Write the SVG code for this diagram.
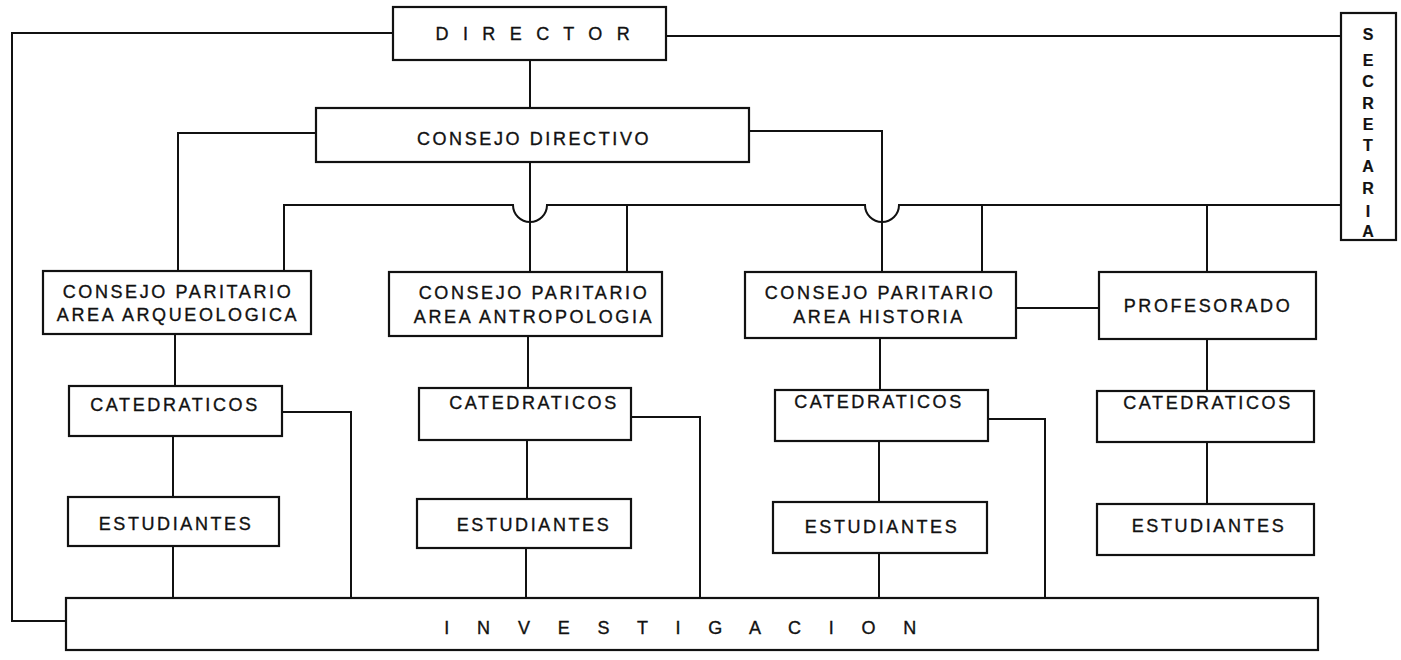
<svg xmlns="http://www.w3.org/2000/svg" width="1401" height="660" viewBox="0 0 1401 660">
<style>
.box{fill:#fff;stroke:#111;stroke-width:2.2}
.ln{fill:none;stroke:#111;stroke-width:2}
text{font-family:"Liberation Sans",Arial,sans-serif;font-size:18px;fill:#111;stroke:#111;stroke-width:0.35;letter-spacing:2.6px;text-anchor:middle}
.wide{letter-spacing:4.7px}
.inv{letter-spacing:11.4px}
.sec{font-size:16px;letter-spacing:0;font-weight:bold;stroke-width:0.2}
</style>
<rect width="1401" height="660" fill="#fff"/>
<g id="connectors" class="ln">
<path d="M393,33 H12 V621 H66"/>
<path d="M666,36 H1341"/>
<path d="M530,60 V108"/>
<path d="M316,133 H178 V271"/>
<path d="M749,131 H882 V272"/>
<path d="M530,162 V272"/>
<path d="M284,271 V205 H513 A17,17 0 0 0 547,205 H865 A17,17 0 0 0 899,205 H1341"/>
<path d="M627,205 V272"/>
<path d="M982,205 V272"/>
<path d="M1207,205 V272"/>
<path d="M1016,308 H1099"/>
<path d="M175,334 V386"/>
<path d="M528,336 V388"/>
<path d="M880,338 V390"/>
<path d="M1207,339 V391"/>
<path d="M173,436 V497"/>
<path d="M527,440 V499"/>
<path d="M879,441 V502"/>
<path d="M1207,442 V504"/>
<path d="M173,546 V598"/>
<path d="M526,548 V598"/>
<path d="M879,553 V598"/>
<path d="M282,412 H351 V598"/>
<path d="M631,417 H700 V598"/>
<path d="M988,419 H1045 V598"/>
</g>
<g id="director"><rect class="box" x="393" y="7" width="273" height="53"/><text class="wide" x="535" y="40">D I R E C T O R</text></g>
<g id="secretaria"><rect class="box" x="1341" y="13" width="55" height="227"/>
<text class="sec" x="1368"><tspan x="1368" y="40">S</tspan><tspan x="1368" y="66">E</tspan><tspan x="1368" y="87">C</tspan><tspan x="1368" y="109">R</tspan><tspan x="1368" y="130">E</tspan><tspan x="1368" y="151">T</tspan><tspan x="1368" y="172">A</tspan><tspan x="1368" y="194">R</tspan><tspan x="1368" y="217">I</tspan><tspan x="1368" y="237">A</tspan></text></g>
<g id="consejo-directivo"><rect class="box" x="316" y="108" width="433" height="54"/><text x="534" y="145">CONSEJO DIRECTIVO</text></g>
<g id="cp-arqueologica"><rect class="box" x="43" y="271" width="268" height="63"/><text x="178" y="298">CONSEJO PARITARIO</text><text x="178" y="321">AREA ARQUEOLOGICA</text></g>
<g id="cp-antropologia"><rect class="box" x="389" y="272" width="273" height="64"/><text x="534" y="299">CONSEJO PARITARIO</text><text x="534" y="323">AREA ANTROPOLOGIA</text></g>
<g id="cp-historia"><rect class="box" x="745" y="272" width="271" height="66"/><text x="880" y="299">CONSEJO PARITARIO</text><text x="879" y="323">AREA HISTORIA</text></g>
<g id="profesorado"><rect class="box" x="1099" y="272" width="217" height="67"/><text x="1208" y="312">PROFESORADO</text></g>
<g id="cat-arq"><rect class="box" x="69" y="386" width="213" height="50"/><text x="175" y="411">CATEDRATICOS</text></g>
<g id="cat-antr"><rect class="box" x="419" y="388" width="212" height="52"/><text x="534" y="409">CATEDRATICOS</text></g>
<g id="cat-hist"><rect class="box" x="775" y="390" width="213" height="51"/><text x="879" y="408">CATEDRATICOS</text></g>
<g id="cat-prof"><rect class="box" x="1097" y="391" width="217" height="51"/><text x="1208" y="409">CATEDRATICOS</text></g>
<g id="est-arq"><rect class="box" x="68" y="497" width="211" height="49"/><text x="176" y="530">ESTUDIANTES</text></g>
<g id="est-antr"><rect class="box" x="417" y="499" width="214" height="49"/><text x="534" y="531">ESTUDIANTES</text></g>
<g id="est-hist"><rect class="box" x="773" y="502" width="214" height="51"/><text x="882" y="533">ESTUDIANTES</text></g>
<g id="est-prof"><rect class="box" x="1097" y="504" width="217" height="51"/><text x="1209" y="532">ESTUDIANTES</text></g>
<g id="investigacion"><rect class="box" x="66" y="598" width="1252" height="52"/><text class="inv" x="686" y="634">I N V E S T I G A C I O N</text></g>
</svg>
